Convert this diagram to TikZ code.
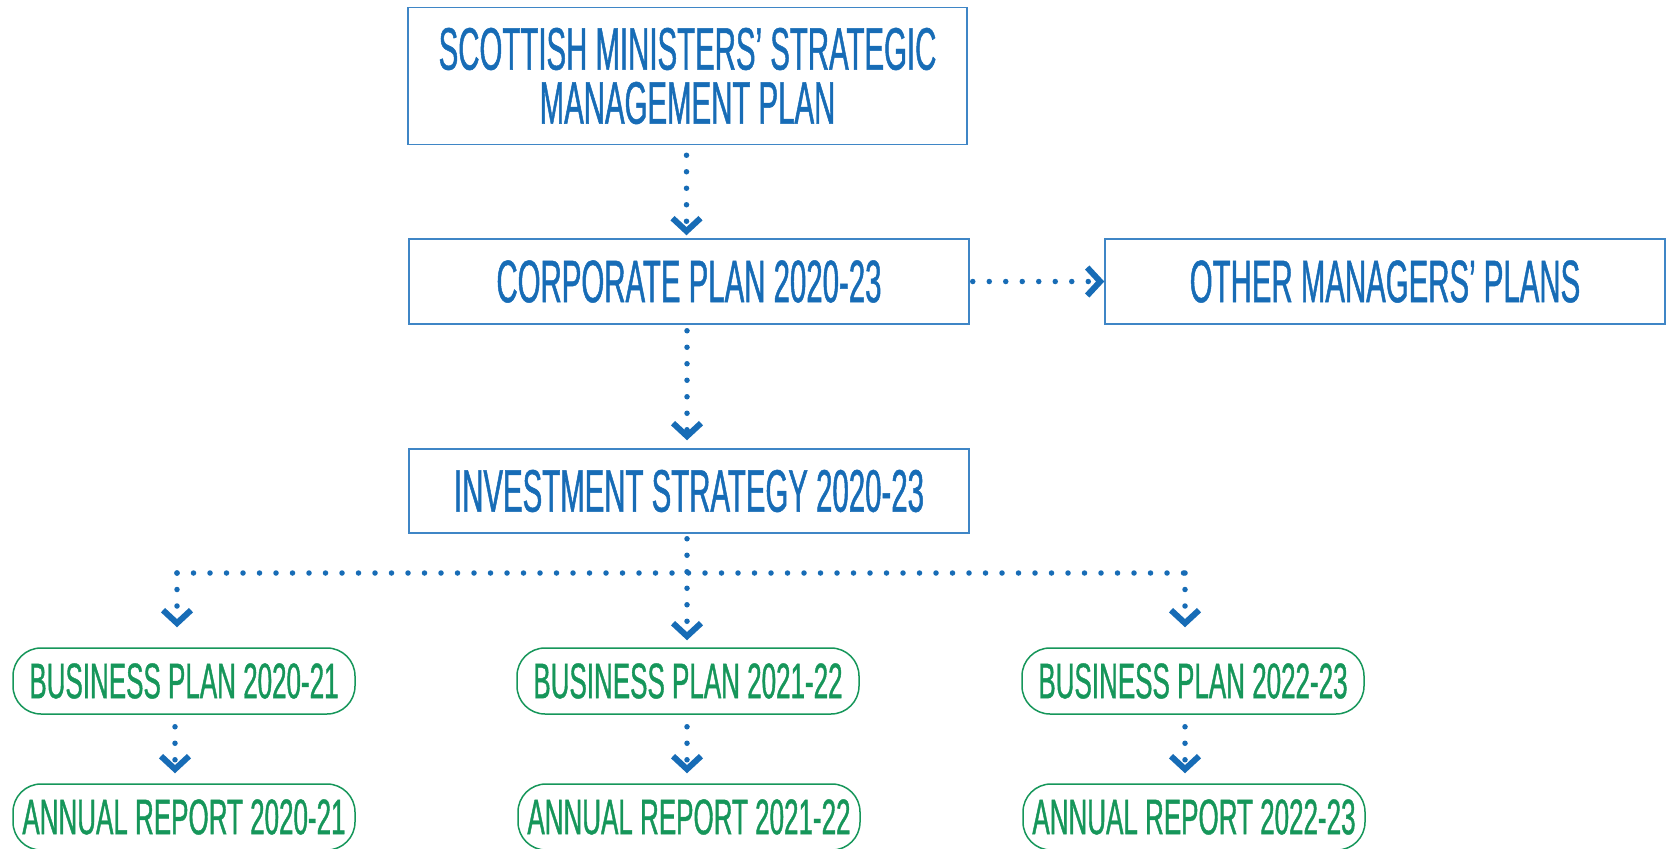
\documentclass[tikz,border=0pt]{standalone}
\usepackage{fontspec}
\usepackage{tikz}
\usepackage{xcolor}
\usetikzlibrary{arrows.meta, positioning}
\newfontfamily\planfont{Liberation Sans}[FakeStretch=0.49, FakeBold=0.8]
\newfontfamily\bizfont{Liberation Sans}[FakeStretch=0.52, FakeBold=0.8]
\definecolor{planblue}{HTML}{176CB6}
\definecolor{edgeblue}{HTML}{3F86C6}
\definecolor{bizgreen}{HTML}{16965A}
\tikzstyle{plan} = [rectangle,
draw=edgeblue, line width=1.5pt,
text=planblue, align=center,
font={\planfont\fontsize{60}{54}\selectfont},
inner sep=0pt, text centered]
\tikzstyle{biz} = [rectangle, rounded corners=28pt,
draw=bizgreen, line width=1.5pt,
text=bizgreen, inner sep=0pt,
minimum width=342pt, minimum height=66pt,
font={\bizfont\fontsize{50}{50}\selectfont}]
\tikzstyle{dotline} = [draw=planblue, line width=5.5pt, line cap=round,
dash pattern=on 0pt off 16.5pt]
\tikzstyle{dotarrow} = [dotline,
-{Straight Barb[length=13pt, width=28pt, line width=6pt]}]

\begin{document}
\begin{tikzpicture}[x=1pt, y=-1pt]
        \useasboundingbox (0,0) rectangle (1669,848);
        % plans
        \node[plan, minimum width=559pt, minimum height=137pt] (smp) at (687.5,76) {SCOTTISH MINISTERS’ STRATEGIC\\MANAGEMENT PLAN};
        \node[plan, minimum width=560pt, minimum height=85pt] (corp) at (689,281.5) {CORPORATE PLAN 2020-23};
        \node[plan, minimum width=560pt, minimum height=85pt] (other) at (1385,281.5) {OTHER MANAGERS’ PLANS};
        \node[plan, minimum width=560pt, minimum height=84pt] (invest) at (689,491) {INVESTMENT STRATEGY 2020-23};
        % business plans and reports
        \node[biz] (bpa) at (184,681) {BUSINESS PLAN 2020-21};
        \node[biz] (bpb) at (688,681) {BUSINESS PLAN 2021-22};
        \node[biz] (bpc) at (1193,681) {BUSINESS PLAN 2022-23};
        \node[biz] (ara) at (184,817) {ANNUAL REPORT 2020-21};
        \node[biz] (arb) at (689,817) {ANNUAL REPORT 2021-22};
        \node[biz] (arc) at (1194,817) {ANNUAL REPORT 2022-23};
        \coordinate (ja) at (177,573);
        \coordinate (jc) at (1185,573);
        % links
        \draw[dotarrow, shorten <=10pt, shorten >=3pt] (smp.south -| 686.5,0) -- (corp.north -| 686.5,0);
        \draw[dotarrow, shorten <=6pt, shorten >=8pt] (corp.south -| 687,0) -- (invest.north -| 687,0);
        \draw[dotarrow, shorten <=3pt, shorten >=0pt] (corp.east) -- (other.west);
        \draw[dotarrow, shorten <=5pt, shorten >=7pt] (invest.south -| 687,0) -- (bpb.north -| 687,0);
        \draw[dotline] (ja) -- (jc);
        \draw[dotarrow, shorten >=20pt] (ja) -- (ja |- bpa.north);
        \draw[dotarrow, shorten >=20pt] (jc) -- (jc |- bpc.north);
        \draw[dotarrow, shorten <=12pt, shorten >=10pt] (bpa.south -| 175,0) -- (ara.north -| 175,0);
        \draw[dotarrow, shorten <=12pt, shorten >=10pt] (bpb.south -| 687,0) -- (arb.north -| 687,0);
        \draw[dotarrow, shorten <=12pt, shorten >=10pt] (bpc.south -| 1185,0) -- (arc.north -| 1185,0);
\end{tikzpicture}
\end{document}
